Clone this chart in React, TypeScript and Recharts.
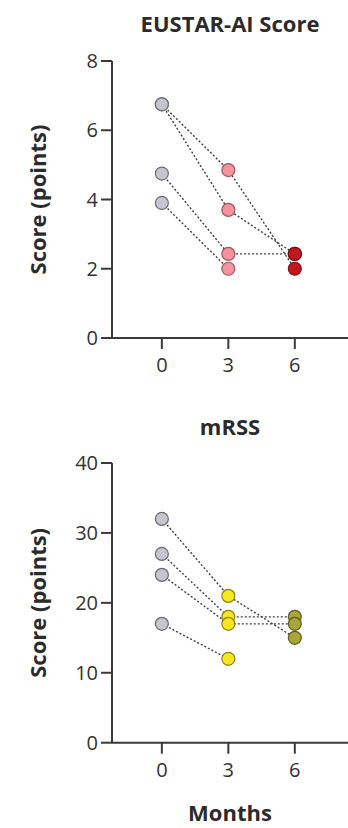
import { LineChart, Line, XAxis, YAxis, Label } from 'recharts';

// months of follow-up
const months = [0, 3, 6];
const monthTicks = [0, 3, 6];

// EUSTAR-AI score per patient (0, 3, 6 months)
const eustarA = [6.75, 4.85, 2.0];
const eustarB = [6.75, 3.7, 2.43];
const eustarC = [4.75, 2.43, 2.43];
const eustarD = [3.9, 2.0, null];
const eustarTicks = [0, 2, 4, 6, 8];

// mRSS per patient
const mrssA = [32, 21, 15];
const mrssB = [27, 18, 18];
const mrssC = [24, 17, 17];
const mrssD = [17, 12, null];
const mrssTicks = [0, 10, 20, 30, 40];

const eustarColors = ['#c5c5cf', '#f4939d', '#c3161d'];
const eustarStrokes = ['#6a6a72', '#a0585f', '#7c1015'];
const mrssColors = ['#c5c5cf', '#f8e71c', '#a9a53a'];
const mrssStrokes = ['#6a6a72', '#8c7f10', '#5f5c1c'];

const keys = ['a', 'b', 'c', 'd'];

function buildRows(series: (number | null)[][]) {
    return months.map((m, i) => {
        const row: any = { month: m, idx: i };
        keys.forEach((k, j) => {
            row[k] = series[j][i];
        });
        return row;
    });
}

const eustarData = buildRows([eustarA, eustarB, eustarC, eustarD]);
const mrssData = buildRows([mrssA, mrssB, mrssC, mrssD]);

const FONT = '"Open Sans", sans-serif';
const AXIS = '#3a3a3a';

const makeDot = (fills: string[], strokes: string[]) => (props: any) => {
    const { cx, cy, payload, value, key } = props;
    if (value == null || cx == null || cy == null) return <g key={key} />;
    return (
        <circle
            key={key}
            cx={cx}
            cy={cy}
            r={6.5}
            fill={fills[payload.idx]}
            stroke={strokes[payload.idx]}
            strokeWidth={1.2}
        />
    );
};

const YLabel = (props: any) => {
    const vb = props.viewBox;
    const cy = vb.y + vb.height / 2;
    return (
        <text
            x={37}
            y={cy}
            transform={`rotate(-90, 37, ${cy})`}
            textAnchor="middle"
            dominantBaseline="central"
            fontFamily={FONT}
            fontWeight={700}
            fontSize={22}
            fill="#2b2b2b"
        >
            Score (points)
        </text>
    );
};

function Panel({ data, ticks, max, fills, strokes, top, plotTop, plotBottom }: any) {
    const H = 400;
    const dot = makeDot(fills, strokes);
    return (
        <div style={{ position: 'absolute', left: 0, top, width: 348, height: H }}>
            <LineChart
                width={348}
                height={H}
                data={data}
                margin={{ top: plotTop, right: 0, left: 0, bottom: H - plotBottom - 40 }}
            >
                <XAxis
                    dataKey="month"
                    type="number"
                    domain={[-2.25, 8.4]}
                    ticks={monthTicks}
                    height={40}
                    tickSize={11}
                    tickMargin={9}
                    stroke={AXIS}
                    strokeWidth={2}
                    tick={{ fill: '#333', fontSize: 20, fontFamily: FONT }}
                    allowDataOverflow
                />
                <YAxis
                    type="number"
                    domain={[0, max]}
                    ticks={ticks}
                    width={112}
                    tickSize={11}
                    tickMargin={3}
                    stroke={AXIS}
                    strokeWidth={2}
                    tick={{ fill: '#333', fontSize: 20, fontFamily: FONT }}
                >
                    <Label content={<YLabel />} />
                </YAxis>
                {keys.map((k) => (
                    <Line
                        key={'l' + k}
                        dataKey={k}
                        stroke="#3f3f3f"
                        strokeWidth={1.4}
                        strokeDasharray="2 2"
                        dot={false}
                        activeDot={false}
                        isAnimationActive={false}
                    />
                ))}
                {keys.map((k) => (
                    <Line
                        key={'d' + k}
                        dataKey={k}
                        stroke="none"
                        dot={dot}
                        activeDot={false}
                        isAnimationActive={false}
                    />
                ))}
            </LineChart>
        </div>
    );
}

const titleStyle = (cy: number): any => ({
    position: 'absolute',
    left: 130,
    width: 200,
    top: cy - 13,
    height: 26,
    lineHeight: '26px',
    textAlign: 'center',
    fontFamily: FONT,
    fontWeight: 700,
    fontSize: 22,
    color: '#2b2b2b',
});

export default function App() {
    return (
        <div style={{ position: 'fixed', left: 0, top: 0, width: 348, height: 828, background: '#fff', overflow: 'hidden' }}>
            <div style={titleStyle(23)}>EUSTAR-AI Score</div>
            <Panel
                data={eustarData}
                ticks={eustarTicks}
                max={8}
                fills={eustarColors}
                strokes={eustarStrokes}
                top={0}
                plotTop={61}
                plotBottom={338}
            />
            <div style={titleStyle(426)}>mRSS</div>
            <Panel
                data={mrssData}
                ticks={mrssTicks}
                max={40}
                fills={mrssColors}
                strokes={mrssStrokes}
                top={400}
                plotTop={63}
                plotBottom={342.7}
            />
            <div style={titleStyle(812)}>Months</div>
        </div>
    );
}
